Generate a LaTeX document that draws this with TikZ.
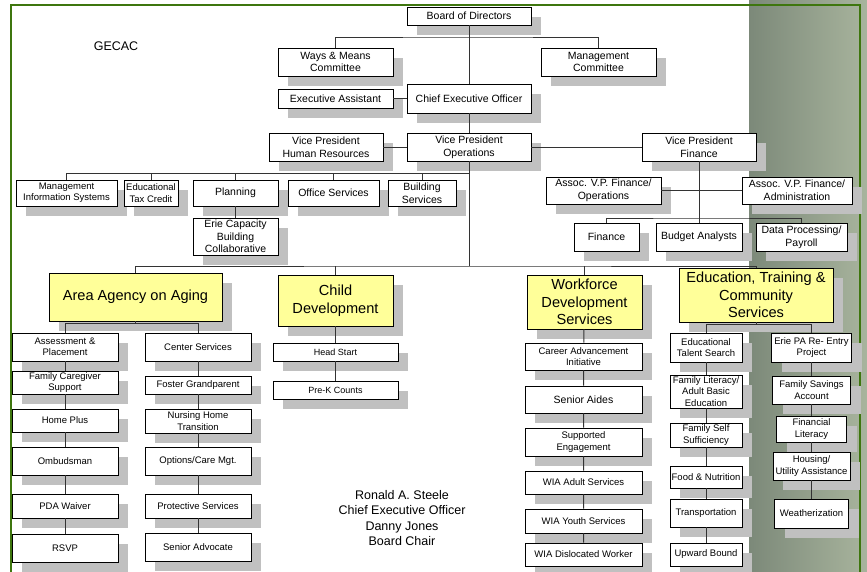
\documentclass[tikz,border=0pt]{standalone}
\usepackage{fontspec}
\setmainfont{Liberation Sans}
\usepackage{xcolor}
\usepackage{tikz}
\usetikzlibrary{calc, positioning, shadows}
\definecolor{framegreen}{RGB}{62,118,14}
\definecolor{unityellow}{RGB}{255,255,153}
\definecolor{shadowgray}{RGB}{192,192,192}
\definecolor{sidedark}{RGB}{124,137,121}
\definecolor{sidelight}{RGB}{168,180,157}
\tikzset{
    topFont/.style={font=\fontsize{10.5}{12.7}\selectfont},
    lowFont/.style={font=\fontsize{9.5}{11.3}\selectfont},
    bigFont/.style={font=\fontsize{14.6}{17.5}\selectfont},
    boxsize/.style 2 args={minimum width=#1pt, minimum height=#2pt}
}

\begin{document}
\begin{tikzpicture}[
        x=1pt, y=-1pt,
        % Define styles for consistency
        unit/.style={
            rectangle,
            draw=black,
            line width=0.8pt,
            fill=white,
            align=center,
            inner sep=1pt,
            drop shadow={shadow xshift=10pt, shadow yshift=-10pt, fill=shadowgray, opacity=1}
        },
        division/.style={
            unit,
            fill=unityellow,
            bigFont
        },
        connector/.style={
            draw=black!80,
            line width=1pt
        },
        note/.style={
            font=\fontsize{12.5}{15.5}\selectfont,
            align=center
        }
    ]

    % Page and side panel
    \useasboundingbox (0,0) rectangle (867,571);
    \fill[white] (0,0) rectangle (867,571);
    \shade[left color=sidedark, right color=sidelight] (749,0) rectangle (867,571);
    \draw[framegreen, line width=2pt] (11,580) -- (11,5) -- (860,5) -- (860,580);

    \node[note, anchor=center] (gecac) at (116,46) {GECAC};

    % --- BOARD AND EXECUTIVE ---
    \node[unit, topFont, boxsize={124}{18}] (board) at (469,16) {Board of Directors};
    \node[unit, topFont, boxsize={115}{28}] (ways) at (335.5,62) {Ways \& Means\\Committee};
    \node[unit, topFont, boxsize={115}{28}] (mgmt) at (598.5,62) {Management\\Committee};
    \node[unit, topFont, boxsize={115}{19}] (exec) at (335.5,98.5) {Executive Assistant};
    \node[unit, topFont, boxsize={124}{29}] (ceo) at (469,98.5) {Chief Executive Officer};

    % Vice presidents
    \node[unit, topFont, boxsize={114}{28}] (vphr) at (326,147) {Vice President\\Human Resources};
    \node[unit, topFont, boxsize={124}{28}] (vpops) at (469,147) {Vice President\\Operations};
    \node[unit, topFont, boxsize={114}{28}] (vpfin) at (699,147) {Vice President\\Finance};

    % Operations staff
    \node[unit, lowFont, boxsize={101}{26}] (mis) at (66.5,193) {Management\\Information Systems};
    \node[unit, lowFont, boxsize={54}{26}] (tax) at (151,193) {Educational\\Tax Credit};
    \node[unit, topFont, boxsize={85}{26}] (plan) at (235.5,193) {Planning};
    \node[unit, topFont, boxsize={91}{26}] (office) at (333.5,193) {Office Services};
    \node[unit, topFont, boxsize={68}{26}] (build) at (422,193) {Building\\Services};
    \node[unit, topFont, boxsize={85}{37}] (erie) at (235.5,236.5) {Erie Capacity\\Building\\Collaborative};

    % Finance staff
    \node[unit, topFont, boxsize={115}{27}] (assocops) at (603.5,190.5) {Assoc. V.P. Finance/\\Operations};
    \node[unit, topFont, boxsize={110}{27}] (assocadm) at (797,190.5) {Assoc. V.P. Finance/\\Administration};
    \node[unit, topFont, boxsize={65}{28}] (fin) at (606.5,237) {Finance};
    \node[unit, topFont, boxsize={86}{28}] (budget) at (699,237) {Budget Analysts};
    \node[unit, topFont, boxsize={91}{28}] (data) at (801.5,237) {Data Processing/\\Payroll};

    % --- DIVISIONS ---
    \node[division, boxsize={173}{48}] (aaa) at (135.5,297) {Area Agency on Aging};
    \node[division, boxsize={115}{51}] (child) at (335.5,300.5) {Child\\Development};
    \node[division, boxsize={115}{54}] (wds) at (584.5,302) {Workforce\\Development\\Services};
    \node[division, boxsize={154}{54}] (etc) at (756,295) {Education, Training \&\\Community\\Services};

    % Area Agency on Aging programs
    \node[unit, lowFont, boxsize={106}{28}] (assess) at (65,347) {Assessment \&\\Placement};
    \node[unit, lowFont, boxsize={106}{23}] (caregiver) at (65,382.5) {Family Caregiver\\Support};
    \node[unit, lowFont, boxsize={106}{23}] (homeplus) at (65,420.5) {Home Plus};
    \node[unit, lowFont, boxsize={106}{28}] (ombuds) at (65,461) {Ombudsman};
    \node[unit, lowFont, boxsize={106}{24}] (pda) at (65,506) {PDA Waiver};
    \node[unit, lowFont, boxsize={106}{28}] (rsvp) at (65,548) {RSVP};
    \node[unit, lowFont, boxsize={106}{28}] (center) at (198,347) {Center Services};
    \node[unit, lowFont, boxsize={106}{18}] (foster) at (198,385) {Foster Grandparent};
    \node[unit, lowFont, boxsize={106}{24}] (nursing) at (198,421) {Nursing Home\\Transition};
    \node[unit, lowFont, boxsize={106}{28}] (options) at (198,461) {Options/Care Mgt.};
    \node[unit, lowFont, boxsize={106}{24}] (protect) at (198,506) {Protective Services};
    \node[unit, lowFont, boxsize={106}{28}] (advocate) at (198,547) {Senior Advocate};

    % Child Development programs
    \node[unit, font=\fontsize{9}{11}\selectfont, boxsize={125}{18}] (headstart) at (335.5,352) {Head Start};
    \node[unit, font=\fontsize{9}{11}\selectfont, boxsize={125}{18}] (prek) at (335.5,390) {Pre-K Counts};

    % Workforce programs
    \node[unit, lowFont, boxsize={117}{27}] (career) at (583.5,356.5) {Career Advancement\\Initiative};
    \node[unit, topFont, boxsize={117}{27}] (aides) at (583.5,399.5) {Senior Aides};
    \node[unit, lowFont, boxsize={117}{28}] (supported) at (583.5,442) {Supported\\Engagement};
    \node[unit, lowFont, boxsize={117}{23}] (wiaadult) at (583.5,482.5) {WIA Adult Services};
    \node[unit, lowFont, boxsize={117}{24}] (wiayouth) at (583.5,521) {WIA Youth Services};
    \node[unit, lowFont, boxsize={117}{23}] (wiadisl) at (583.5,554.5) {WIA Dislocated Worker};

    % Education, Training and Community programs
    \node[unit, lowFont, boxsize={72}{29}] (talent) at (706,347.5) {Educational\\Talent Search};
    \node[unit, lowFont, boxsize={72}{33}] (literacy) at (706,391.5) {Family Literacy/\\Adult Basic\\Education};
    \node[unit, lowFont, boxsize={72}{24}] (selfsuff) at (706,435) {Family Self\\Sufficiency};
    \node[unit, lowFont, boxsize={72}{22}] (food) at (706,477) {Food \& Nutrition};
    \node[unit, lowFont, boxsize={72}{28}] (transport) at (706,513) {Transportation};
    \node[unit, lowFont, boxsize={72}{23}] (upward) at (706,554.5) {Upward Bound};
    \node[unit, lowFont, boxsize={80}{29}] (reentry) at (811.5,347.5) {Erie PA Re- Entry\\Project};
    \node[unit, lowFont, boxsize={78}{28}] (savings) at (811.5,390) {Family Savings\\Account};
    \node[unit, lowFont, boxsize={70}{26}] (finlit) at (811.5,429) {Financial\\Literacy};
    \node[unit, lowFont, boxsize={77}{28}] (housing) at (811.5,466) {Housing/\\Utility Assistance};
    \node[unit, lowFont, boxsize={74}{29}] (weather) at (811.5,513.5) {Weatherization};

    % --- CONNECTIONS ---
    \coordinate (cmtbar) at (469,37);
    \coordinate (opsbar) at (469,173);
    \coordinate (finbar) at (699,218);
    \coordinate (mainbar) at (469,266);
    \coordinate (aaabar) at (135.5,323.5);
    \coordinate (etcbar) at (756,324.5);

    % Board and executive
    \draw[connector] (board) -- (ceo);
    \draw[connector] (ways.north) |- (cmtbar) -| (mgmt.north);
    \draw[connector] (exec) -- (ceo);
    \draw[connector] (ceo) -- (vpops);
    \draw[connector] (vphr) -- (vpops);
    \draw[connector] (vpops) -- (vpfin);

    % Operations row
    \draw[connector] (mis.north) |- (opsbar);
    \foreach \n in {tax, plan, office, build}
        \draw[connector] (\n.north) -- (\n.north |- opsbar);
    \draw[connector] (plan) -- (erie);

    % Finance branch
    \draw[connector] (vpfin) -- (budget);
    \draw[connector] (assocops) -- (assocadm);
    \draw[connector] (fin.north) |- (finbar) -| (data.north);

    % Main bar down to the divisions
    \draw[connector] (vpops) -- (mainbar);
    \draw[connector] (aaa.north) |- (mainbar) -| (etc.north);
    \draw[connector] (child.north) -- (child.north |- mainbar);
    \draw[connector] (wds.north) -- (wds.north |- mainbar);

    % Division programs
    \draw[connector] (aaa) -- (aaabar);
    \draw[connector] (assess.north) |- (aaabar) -| (center.north);
    \draw[connector] (assess) -- (caregiver) -- (homeplus) -- (ombuds) -- (pda) -- (rsvp);
    \draw[connector] (center) -- (foster) -- (nursing) -- (options) -- (protect) -- (advocate);
    \draw[connector] (child) -- (headstart) -- (prek);
    \draw[connector] (wds) -- (career) -- (aides) -- (supported) -- (wiaadult) -- (wiayouth) -- (wiadisl);
    \draw[connector] (etc) -- (etcbar);
    \draw[connector] (talent.north) |- (etcbar) -| (reentry.north);
    \draw[connector] (talent) -- (literacy) -- (selfsuff) -- (food) -- (transport) -- (upward);
    \draw[connector] (reentry) -- (savings) -- (finlit) -- (housing) -- (weather);

    % Signature
    \node[note] (names) at (402,518) {Ronald A. Steele\\Chief Executive Officer\\Danny Jones\\Board Chair};

\end{tikzpicture}
\end{document}
